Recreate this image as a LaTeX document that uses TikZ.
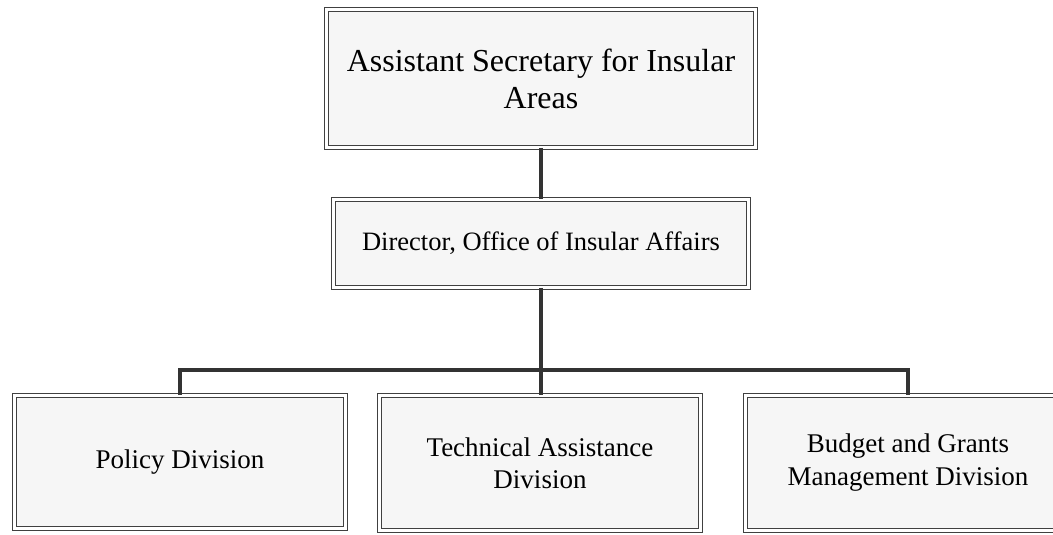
\documentclass[tikz,border=0pt]{standalone}
\usepackage{fontspec}
\setmainfont{Liberation Serif}
\usetikzlibrary{shadows}
\begin{document}
\begin{tikzpicture}[x=1pt,y=-1pt,
  orgbox/.style={draw=black!75, line width=0.9pt, double=white, double distance=3.2pt,
    fill=gray!7, align=center, inner sep=0pt, text=black,
    drop shadow={opacity=0.25, shadow xshift=2pt, shadow yshift=-2pt}},
  link/.style={draw=black!80, line width=3.5pt}]
\useasboundingbox (0,0) rectangle (1053,535);
\node[orgbox, minimum width=429pt, minimum height=138pt, font=\fontsize{32}{37}\selectfont]
  (top) at (541,78.5) {Assistant Secretary for Insular\\Areas};
\node[orgbox, minimum width=415pt, minimum height=88pt, font=\fontsize{26.5}{31}\selectfont]
  (dir) at (541,243.5) {Director, Office of Insular Affairs};
\node[orgbox, minimum width=331pt, minimum height=133pt, font=\fontsize{27}{32}\selectfont]
  (pol) at (180,462) {Policy Division};
\node[orgbox, minimum width=321pt, minimum height=135pt, font=\fontsize{27}{32}\selectfont]
  (tec) at (540,463) {Technical Assistance\\Division};
\node[orgbox, minimum width=325pt, minimum height=135pt, font=\fontsize{27}{33}\selectfont]
  (bud) at (908,463) {Budget and Grants\\Management Division};
\coordinate (bus) at (541,370);
\draw[link] (top.south) -- (dir.north);
\draw[link] (dir.south) -- (bus);
\draw[link] (pol.north) |- (bus) -| (bud.north);
\draw[link] (bus) -- (bus |- tec.north);
\end{tikzpicture}
\end{document}
